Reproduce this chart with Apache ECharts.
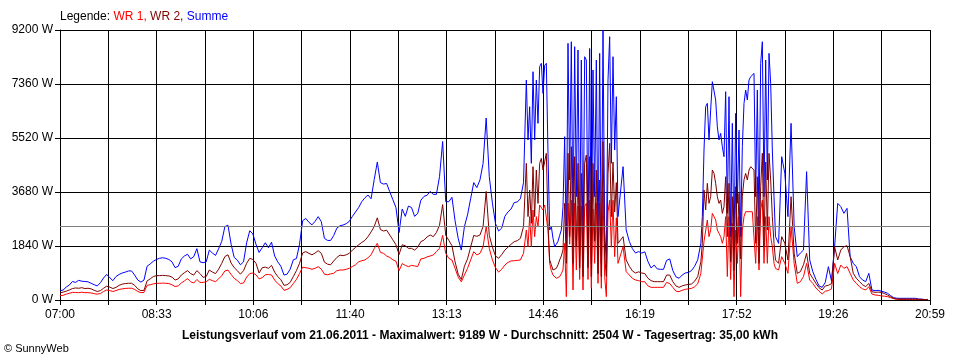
<!DOCTYPE html>
<html>
<head>
<meta charset="utf-8">
<script src="https://cdn.jsdelivr.net/npm/echarts@6/dist/echarts.min.js"></script>
<style>
html,body{margin:0;padding:0;background:#fff;}
#c{width:960px;height:360px;}
</style>
</head>
<body>
<div id="c"></div>
<script>
// coarse sampling step in minutes from 07:00
const STEP = 3;
// finer sampling used inside the two cloudy, fast-changing periods
const FINE_STEP = 1.6073;
const FINE1_START = 449.72;   // ~14:30
const FINE2_START = 619.45;   // ~17:19
const X_MAX = 839; // 07:00 .. 20:59
const xLabels = ['07:00','08:33','10:06','11:40','13:13','14:46','16:19','17:52','19:26','20:59'];
const yMax = 9200;
const yStep = 1840;
const average = 2504;
const caption = 'Leistungsverlauf vom 21.06.2011 - Maximalwert: 9189 W - Durchschnitt: 2504 W - Tagesertrag: 35,00 kWh';

const summe = [
317,340,440,510,630,600,670,640,630,620,
570,520,480,590,750,870,760,660,800,870,
920,950,990,990,850,680,610,680,1150,1230,
1320,1380,1420,1440,1420,1380,1300,1100,1150,1400,
1500,1560,1400,1480,1750,1300,1270,1300,1700,1600,
1520,1750,2000,2500,2550,1900,1450,1360,1200,1300,
1950,2360,2250,1900,1620,1780,1950,1780,1970,1500,
1300,1150,850,880,1050,1370,1410,1900,2700,2780,
2650,2560,2680,2840,2670,2100,2030,2030,2200,2450,
2530,2555,2600,2680,2850,3000,3150,3350,3480,3577,
3450,4100,4700,4000,3950,3970,3690,3420,3150,2300,
3100,2850,3200,3150,2850,2950,3400,3530,3570,3700,
3600,3600,4200,5400,3350,3350,3500,2700,2100,1700,
2500,2900,3450,4000,3830,4090,4650,6200,4200,3300,
2600,2350,2450,2850,3000,3100,3320,3340,3450,4000,
7400,5000,7700,6000,7800,7500,8050,3500,2500,1830,
1980,2300,3400,1450,8745,2385,8631,1817,8177,8290,
1817,8570,1250,8177,1476,9189,1250,8972,4657,5800,
2840,4543,2385,2000,1750,1600,1650,1600,1640,1310,
1090,1190,1060,1045,1045,1350,1400,1000,790,740,
850,920,940,1000,1150,1370,1930,5111,6700,5500,
7439,6814,5451,5224,7098,2953,6019,1703,6359,2158,
6700,6814,7609,7722,3520,8064,3520,8177,7382,3520,
2158,1931,4884,4316,2840,6019,2500,1476,1600,1703,
4373,1363,965,700,480,431,600,1135,650,1817,
3293,3180,2953,3123,1476,1249,1135,795,681,625,
908,341,318,330,300,270,230,150,80,60,
57,57,57,57,57,57,34,30,15,20
];

const wr2 = [
240,270,300,340,390,410,400,420,390,400,
380,330,290,320,400,470,440,390,430,500,
540,560,570,570,500,380,320,330,650,720,
800,830,830,840,830,820,780,680,720,850,
930,1000,900,850,1000,900,772,800,1022,950,
900,1050,1250,1480,1540,1260,1100,1000,880,1000,
1250,1420,1380,1250,920,1100,1120,1080,1180,950,
800,690,500,520,600,800,1000,1250,1600,1650,
1590,1540,1600,1680,1590,1290,1220,1200,1330,1450,
1530,1510,1540,1590,1700,1790,1880,1960,2030,2158,
2320,2500,2800,2400,2350,2380,2215,2050,1880,1550,
1880,1850,1760,1760,1700,1800,1990,2040,2150,2215,
2158,2300,2550,3250,2200,2030,1850,1300,880,700,
1150,1400,1800,2200,2170,2215,2500,3700,2200,1800,
1500,1420,1550,1700,1800,1900,1988,2020,2100,2500,
4600,3000,4500,3600,4650,4600,4900,2400,1200,1050,
1200,1450,3000,1249,5224,1249,4884,1363,4315,4940,
1100,4656,1000,4429,1000,5600,1000,5338,2385,3293,
1930,2158,1363,1150,990,920,960,920,900,740,
660,625,625,625,625,850,850,625,480,431,
480,511,530,545,640,800,1300,3748,3975,3293,
4429,3975,3293,3000,4202,2158,3520,1249,3861,1817,
4315,4088,4543,4429,2000,3861,1817,4997,4088,1930,
1363,1249,2158,1930,1363,3520,1590,908,965,1200,
1590,908,738,568,420,341,480,500,560,1817,
1363,1703,1817,1850,1476,908,738,625,520,454,
568,284,260,270,260,220,170,110,57,35,
30,30,30,30,30,30,25,20,15,10
];

const wr1 = [
148,160,200,230,260,255,250,265,250,250,
240,215,200,220,290,340,320,290,320,360,
380,395,400,400,360,290,250,260,500,520,
550,568,570,575,570,560,520,460,480,580,
650,730,620,580,700,600,600,620,704,660,
625,720,830,990,1020,870,740,660,560,580,
780,900,920,860,720,760,860,870,852,680,
560,480,330,360,420,560,700,900,1120,1100,
1080,1045,1080,1136,1050,880,860,890,910,1000,
1022,1022,1045,1079,1140,1200,1300,1340,1363,1440,
1540,1750,1930,1620,1590,1500,1450,1370,1320,1000,
1240,1180,1136,1180,1160,1140,1400,1419,1470,1500,
1533,1650,1760,2200,1590,1419,1363,1079,780,620,
852,1079,1363,1647,1533,1590,1817,2500,1760,1363,
1100,950,1050,1190,1280,1330,1340,1350,1363,1590,
2400,2000,3066,2400,3200,3100,3200,2385,1100,800,
740,800,1200,200,2840,341,2385,908,2158,3180,
700,3407,568,2840,568,3500,114,3293,2612,2158,
1300,1817,965,852,738,681,660,625,620,480,
431,431,431,431,431,600,560,431,300,284,
330,363,380,397,450,550,900,2612,2726,2385,
2953,2726,2271,1930,2840,1249,2612,114,2840,114,
2840,3066,3009,3009,1500,3066,1249,2840,2158,1249,
1079,1022,1476,1249,908,2498,1249,568,625,800,
1249,681,568,409,300,204,300,320,380,1249,
900,1192,1079,1136,908,681,568,454,380,341,
454,204,170,160,140,130,114,80,45,25,
20,20,20,20,20,20,15,12,10,8
];

// fine period 1 (~14:30 - 15:58)
const summeFine1 = [
7495,5451,6586,4657,7779,5451,7495,6019,7950,8064,
7041,7995,8064,5000,2385,2500,2100,1817,1900,2000,
2200,2385,3180,5565,1703,8745,4088,8800,2385,8631,
3520,8518,1817,8177,1250,8290,8177,1817,8570,1250,
7836,3520,8177,1476,8404,1250,9189,2385,1250,7495,
8972,4657,8290,5111,6927,2840
];
const wr2Fine1 = [
4656,2840,3748,2612,4543,2840,4429,3293,4656,4827,
4429,4713,4997,2612,1363,1200,1022,1050,1079,1200,
1363,1500,1703,3293,1249,5000,2158,5224,1249,4884,
1817,4656,1100,4315,800,4656,4940,1100,4884,800,
4656,2000,4429,900,4088,800,5400,1500,800,4300,
5338,2840,4700,3000,4000,1930
];
const wr1Fine1 = [
2385,1817,2840,1817,3066,2158,2840,2498,3236,3180,
3066,3236,3180,2385,1249,1000,852,800,738,760,
795,900,1022,1930,114,3300,1900,3400,341,3300,
1022,3200,700,3200,341,3180,3293,700,3407,400,
3100,1249,3300,568,3300,400,3700,800,114,3000,
3400,1800,3400,1476,2800,1249
];

// fine period 2 (~17:19 - 18:28)
const summeFine2 = [
2840,5111,6586,6700,5451,6473,7439,7382,6814,5905,
5451,5678,5224,4884,7098,2953,6927,2158,6019,1703,
6359,3293,5792,2158,5224,6700,7155,6814,7495,7609,
7665,7722,3520,7155,2385,8064,8800,3520,8177,4088,
8404,7382,5111,3520
];
const wr2Fine2 = [
1930,3748,3066,3975,3293,3520,4429,4315,3975,3520,
3293,3407,2953,3180,4202,2158,3975,1300,3520,1000,
3861,1930,3634,1400,3520,4100,4315,4088,4429,4543,
4600,4429,1930,4202,1249,3861,5000,1817,4700,2385,
4997,4088,2840,1930
];
const wr1Fine2 = [
900,2000,2044,2726,2158,2385,2953,2975,2726,2385,
2271,2158,1930,2158,2840,800,2840,700,2612,114,
2385,1249,2840,114,2385,2840,3009,3066,3009,3066,
3009,3066,1249,2840,1022,3066,3400,1249,2840,1249,
2840,2158,1817,1249
];

function build(coarse, fines) {
  const segs = fines.map(f => ({start: f[0], end: f[0] + (f[1].length - 1) * FINE_STEP, values: f[1]}));
  const pts = [];
  coarse.forEach((v, i) => {
    const t = i * STEP;
    if (!segs.some(s => t >= s.start && t <= s.end)) pts.push([t, v]);
  });
  segs.forEach(s => s.values.forEach((v, j) => pts.push([s.start + j * FINE_STEP, v])));
  pts.sort((a, b) => a[0] - b[0]);
  return pts;
}

const FONT = 'Liberation Sans, Arial, sans-serif';
const xInterval = X_MAX / 18;

const chart = echarts.init(document.getElementById('c'), null, {renderer: 'canvas'});
chart.setOption({
  animation: false,
  backgroundColor: '#ffffff',
  title: [
    {
      text: '{k|Legende: }{a|WR 1, }{b|WR 2, }{c|Summe}',
      left: 60, top: 11, padding: 0,
      textStyle: {
        fontFamily: FONT, fontSize: 12, fontWeight: 'normal',
        rich: {
          k: {color: '#000000', fontFamily: FONT, fontSize: 12},
          a: {color: '#ff0000', fontFamily: FONT, fontSize: 12},
          b: {color: '#800000', fontFamily: FONT, fontSize: 12},
          c: {color: '#0000ff', fontFamily: FONT, fontSize: 12}
        }
      }
    },
    {
      text: caption,
      left: 'center', top: 330, padding: 0,
      textStyle: {fontFamily: FONT, fontSize: 12, fontWeight: 'bold', color: '#000000'}
    },
    {
      text: '© SunnyWeb',
      left: 4, top: 343, padding: 0,
      textStyle: {fontFamily: FONT, fontSize: 11, fontWeight: 'normal', color: '#000000'}
    }
  ],
  grid: {left: 60, right: 30, top: 30, bottom: 60, containLabel: false},
  xAxis: {
    type: 'value',
    min: 0, max: X_MAX, interval: xInterval,
    axisLine: {show: true, lineStyle: {color: '#000000', width: 1}},
    axisTick: {show: true, length: 5, lineStyle: {color: '#000000'}},
    splitLine: {show: true, lineStyle: {color: '#000000', width: 1}},
    axisLabel: {
      show: true, margin: 9, color: '#000000', fontFamily: FONT, fontSize: 12,
      showMinLabel: true, showMaxLabel: true,
      formatter: function (v) {
        const k = Math.round(v / xInterval);
        return (k % 2 === 0) ? (xLabels[k / 2] || '') : '';
      }
    }
  },
  yAxis: {
    type: 'value',
    min: 0, max: yMax, interval: yStep,
    axisLine: {show: true, lineStyle: {color: '#000000', width: 1}},
    axisTick: {show: true, length: 5, lineStyle: {color: '#000000'}},
    splitLine: {show: true, lineStyle: {color: '#000000', width: 1}},
    axisLabel: {margin: 7, color: '#000000', fontFamily: FONT, fontSize: 12,
      formatter: function (v) { return String(v) + ' W'; }}
  },
  series: [
    {name: 'Summe', type: 'line', data: build(summe, [[FINE1_START, summeFine1], [FINE2_START, summeFine2]]),
     showSymbol: false, symbol: 'none',
     lineStyle: {color: '#0000ff', width: 1}, itemStyle: {color: '#0000ff'}, z: 2, silent: true},
    {name: 'WR 1', type: 'line', data: build(wr1, [[FINE1_START, wr1Fine1], [FINE2_START, wr1Fine2]]),
     showSymbol: false, symbol: 'none',
     lineStyle: {color: '#ff0000', width: 1}, itemStyle: {color: '#ff0000'}, z: 3, silent: true},
    {name: 'WR 2', type: 'line', data: build(wr2, [[FINE1_START, wr2Fine1], [FINE2_START, wr2Fine2]]),
     showSymbol: false, symbol: 'none',
     lineStyle: {color: '#800000', width: 1}, itemStyle: {color: '#800000'}, z: 4, silent: true},
    {name: 'avg', type: 'line', data: [], z: 5, silent: true,
     markLine: {silent: true, symbol: 'none', label: {show: false},
       lineStyle: {color: '#808080', width: 1, type: 'solid'},
       data: [{yAxis: average}]}}
  ]
});
</script>
</body>
</html>
